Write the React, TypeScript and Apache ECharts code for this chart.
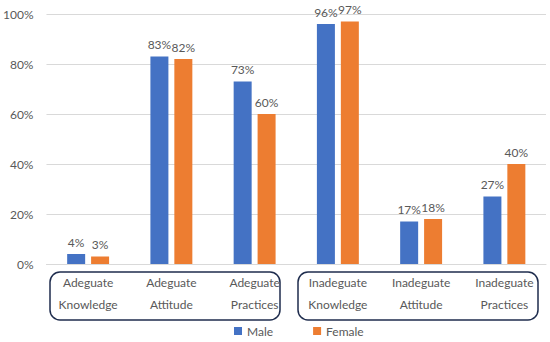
import React, { useEffect, useRef } from "react";
import * as echarts from "echarts";

const categories = [
  "Adeguate\nKnowledge",
  "Adeguate\nAttitude",
  "Adeguate\nPractices",
  "Inadeguate\nKnowledge",
  "Inadeguate\nAttitude",
  "Inadeguate\nPractices",
];
const maleValues = [4, 83, 73, 96, 17, 27];
const femaleValues = [3, 82, 60, 97, 18, 40];
const seriesNames = ["Male", "Female"];

export default function App() {
  const ref = useRef<HTMLDivElement>(null);
  useEffect(() => {
    document.body.style.margin = "0";
    const chart = echarts.init(ref.current!, undefined, { renderer: "svg" });
    const font = "Lato, 'Open Sans', sans-serif";
    const labelStyle = {
      show: true,
      position: "top" as const,
      distance: 6,
      formatter: "{c}%",
      color: "#595959",
      fontSize: 12,
      fontFamily: font,
    };
    chart.setOption({
      animation: false,
      textStyle: { fontFamily: font },
      grid: { left: 42, right: 4, top: 14, bottom: 78, containLabel: false },
      legend: {
        top: 323,
        left: 229,
        itemWidth: 8,
        itemHeight: 8,
        itemGap: 40,
        padding: [2, 5],
        icon: "rect",
        textStyle: { color: "#595959", fontSize: 12, fontFamily: font },
        data: seriesNames,
      },
      xAxis: {
        type: "category",
        data: categories,
        axisLine: { lineStyle: { color: "#d9d9d9" } },
        axisTick: { show: false },
        axisLabel: {
          color: "#595959",
          fontSize: 12,
          fontFamily: font,
          lineHeight: 22,
          margin: 7,
          interval: 0,
        },
      },
      yAxis: {
        type: "value",
        min: 0,
        max: 100,
        interval: 20,
        axisLabel: {
          formatter: "{value}%",
          color: "#595959",
          fontSize: 12,
          fontFamily: font,
          margin: 13,
        },
        splitLine: { lineStyle: { color: "#d9d9d9" } },
        axisLine: { show: false },
        axisTick: { show: false },
      },
      series: [
        {
          name: seriesNames[0],
          type: "bar",
          data: maleValues,
          barWidth: 18,
          barGap: "33%",
          itemStyle: { color: "#4472C4" },
          label: labelStyle,
        },
        {
          name: seriesNames[1],
          type: "bar",
          data: femaleValues,
          barWidth: 18,
          itemStyle: { color: "#ED7D31" },
          label: labelStyle,
        },
      ],
      graphic: [
        {
          type: "rect",
          shape: { x: 50, y: 272, width: 230, height: 48, r: 10 },
          style: { fill: "none", stroke: "#1f2d4e", lineWidth: 1.5 },
          silent: true,
        },
        {
          type: "rect",
          shape: { x: 298, y: 272, width: 240, height: 48, r: 10 },
          style: { fill: "none", stroke: "#1f2d4e", lineWidth: 1.5 },
          silent: true,
        },
      ],
    });
    return () => chart.dispose();
  }, []);
  return <div ref={ref} style={{ width: 550, height: 342 }} />;
}
